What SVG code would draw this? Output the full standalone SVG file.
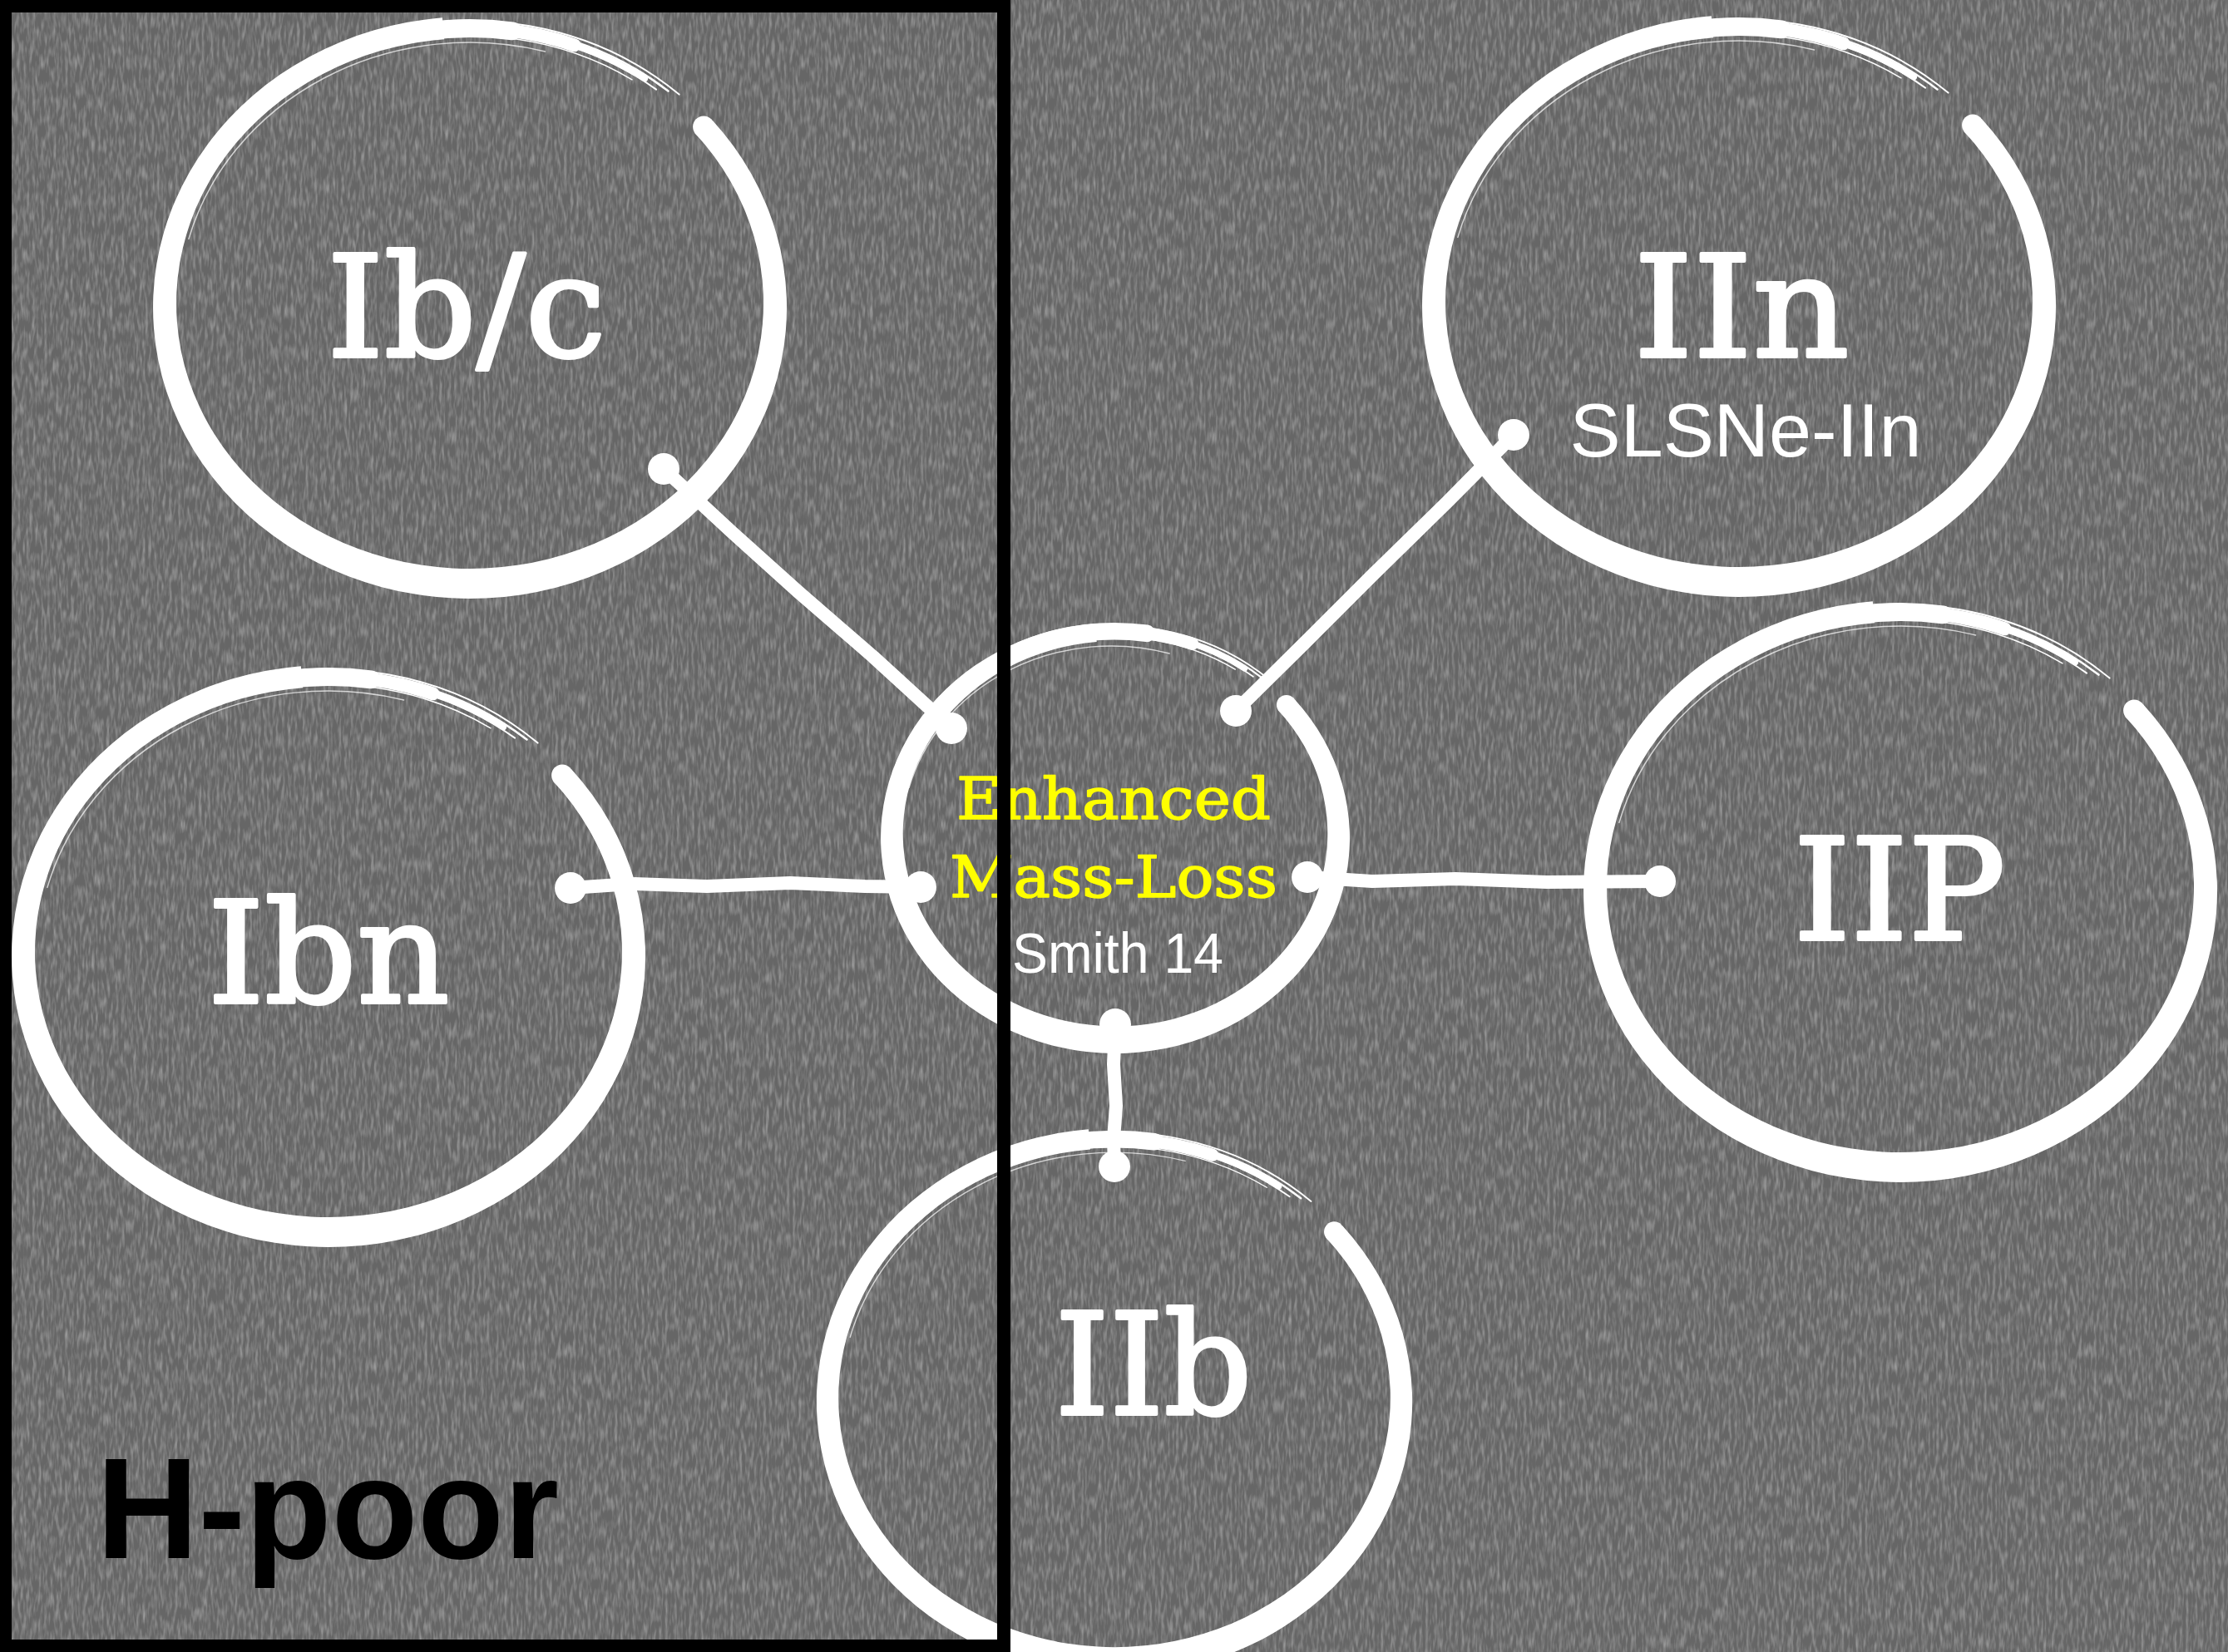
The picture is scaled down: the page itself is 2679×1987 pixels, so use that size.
<svg xmlns="http://www.w3.org/2000/svg" xmlns:xlink="http://www.w3.org/1999/xlink" width="2679" height="1987" viewBox="0 0 2679 1987">
<style>
.ring path{fill:none;stroke:#fff;stroke-linecap:round}
.ring path.body{fill:#fff;stroke:none}
.ring circle{fill:#fff}
.lbl{font-family:"DejaVu Serif","Liberation Serif",serif;font-size:170px;fill:#fff;stroke:#fff;stroke-width:4;stroke-linejoin:round;text-anchor:middle}
.sub{font-family:"Liberation Sans",Arial,sans-serif;fill:#fff;text-anchor:middle}
.yel{font-family:"DejaVu Serif","Liberation Serif",serif;font-size:70px;fill:#ffff00;stroke:#ffff00;stroke-width:1.5;stroke-linejoin:round;text-anchor:middle}
.con path{fill:none;stroke:#fff;stroke-width:16;stroke-linecap:round;stroke-linejoin:round}
.con circle{fill:#fff}
</style>
<defs>
<filter id="grain" filterUnits="userSpaceOnUse" x="0" y="0" width="2679" height="1987">
<feTurbulence type="fractalNoise" baseFrequency="0.28 0.06" numOctaves="2" seed="4" result="n"/>
<feColorMatrix in="n" type="matrix" values="0 0 0 0 1  0 0 0 0 1  0 0 0 0 1  0.9 0 0 0 -0.36"/>
</filter>
<g id="ring" class="ring">
<path class="body" d="M291.9,-225 A381,350 0 1 1 -33.2,-348.7 L-30.8,-322.8 A353,319 0 1 0 270.4,-210.1 Z"/>
<circle cx="281.1" cy="-217.5" r="13"/>
<path d="M-155.1,-304.5 A367,336 0 0 1 51.1,-332.7" stroke-width="22"/>
<path d="M-95,-324.5 A367,336 0 0 1 125.5,-315.7" stroke-width="16"/>
<path d="M0,-336 A367,336 0 0 1 210.5,-275.2" stroke-width="7"/>
<path d="M-128.6,-324.2 A376,345 0 0 1 251.6,-256.4" stroke-width="2"/>
<path d="M-96,-328.4 A371,340 0 0 1 238.5,-260.4" stroke-width="2.5"/>
<path d="M-63.2,-327.9 A364,333 0 0 1 224.1,-262.4" stroke-width="2"/>
<path d="M-92.7,-315.9 A358,327 0 0 1 195,-274.2" stroke-width="1.5"/>
<path d="M-338.1,-82.6 A350,319 0 0 1 90.6,-308.1" stroke-width="1.5" opacity="0.7"/>
</g>
<g id="ringC" class="ring">
<path class="body" d="M291.9,-225 A381,350 0 1 1 -33.2,-348.7 L-30.1,-318.8 A345,313 0 1 0 264.3,-208.2 Z"/>
<circle cx="278.1" cy="-216.6" r="16"/>
<path d="M-155.1,-304.5 A367,336 0 0 1 51.1,-332.7" stroke-width="28"/>
<path d="M-95,-324.5 A367,336 0 0 1 125.5,-315.7" stroke-width="20"/>
<path d="M0,-336 A367,336 0 0 1 210.5,-275.2" stroke-width="9"/>
<path d="M-128.6,-324.2 A376,345 0 0 1 251.6,-256.4" stroke-width="2.5"/>
<path d="M-96,-328.4 A371,340 0 0 1 238.5,-260.4" stroke-width="3"/>
<path d="M-63.2,-327.9 A364,333 0 0 1 224.1,-262.4" stroke-width="2.5"/>
<path d="M-92.7,-315.9 A358,327 0 0 1 195,-274.2" stroke-width="2"/>
<path d="M-335,-82 A340,310 0 0 1 88,-300" stroke-width="2" opacity="0.7"/>
</g>
</defs>
<rect width="2679" height="1987" fill="#666666"/>
<rect width="2679" height="1987" filter="url(#grain)" opacity="0.75"/>

<g id="connectors" class="con">
<path d="M798,564 L880,640 L960,712 L1050,790 L1144,876"/>
<circle cx="798" cy="564" r="19"/><circle cx="1144" cy="876" r="19"/>
<path d="M1820,523 L1740,604 L1650,692 L1570,772 L1486,855"/>
<circle cx="1820" cy="523" r="19"/><circle cx="1486" cy="855" r="19"/>
<path d="M686,1068 L760,1063 L850,1066 L950,1062 L1040,1066 L1107,1067"/>
<circle cx="686" cy="1068" r="19"/><circle cx="1107" cy="1067" r="19"/>
<path d="M1572,1055 L1650,1060 L1750,1057 L1860,1061 L1996,1060"/>
<circle cx="1572" cy="1055" r="19"/><circle cx="1996" cy="1060" r="19"/>
<path d="M1341,1232 L1339,1280 L1342,1330 L1339,1370 L1340,1403"/>
<circle cx="1341" cy="1232" r="19"/><circle cx="1340" cy="1403" r="19"/>
</g>

<g id="node-ibc">
<use href="#ring" transform="translate(565,370)"/>
<text class="lbl" x="561" y="429" textLength="336" lengthAdjust="spacingAndGlyphs">Ib/c</text>
</g>
<g id="node-iin">
<use href="#ring" transform="translate(2091,368)"/>
<text class="lbl" x="2094" y="429" textLength="259" lengthAdjust="spacingAndGlyphs">IIn</text>
<text class="sub" x="2099" y="549" font-size="90" textLength="423" lengthAdjust="spacingAndGlyphs">SLSNe-IIn</text>
</g>
<g id="node-ibn">
<use href="#ring" transform="translate(395,1150)"/>
<text class="lbl" x="395" y="1206" textLength="291" lengthAdjust="spacingAndGlyphs">Ibn</text>
</g>
<g id="node-iip">
<use href="#ring" transform="translate(2285,1072)"/>
<text class="lbl" x="2284" y="1130" textLength="255" lengthAdjust="spacingAndGlyphs">IIP</text>
</g>
<g id="node-iib">
<use href="#ring" transform="translate(1340,1686) scale(0.94)"/>
<text class="lbl" x="1387" y="1701" textLength="237" lengthAdjust="spacingAndGlyphs">IIb</text>
</g>
<g id="node-center">
<use href="#ringC" transform="translate(1341,1008) scale(0.74)"/>
<text class="yel" x="1339" y="985" textLength="378" lengthAdjust="spacingAndGlyphs">Enhanced</text>
<text class="yel" x="1339" y="1079" textLength="394" lengthAdjust="spacingAndGlyphs">Mass-Loss</text>
<text class="sub" x="1344" y="1170" font-size="68" textLength="254" lengthAdjust="spacingAndGlyphs">Smith 14</text>
</g>

<g id="h-poor">
<text x="116" y="1874" font-family="'Liberation Sans',Arial,sans-serif" font-weight="bold" font-size="172" fill="#000" textLength="556" lengthAdjust="spacingAndGlyphs">H-poor</text>
<rect x="6" y="7" width="1201" height="1973" fill="none" stroke="#000" stroke-width="16"/>
</g>
</svg>
